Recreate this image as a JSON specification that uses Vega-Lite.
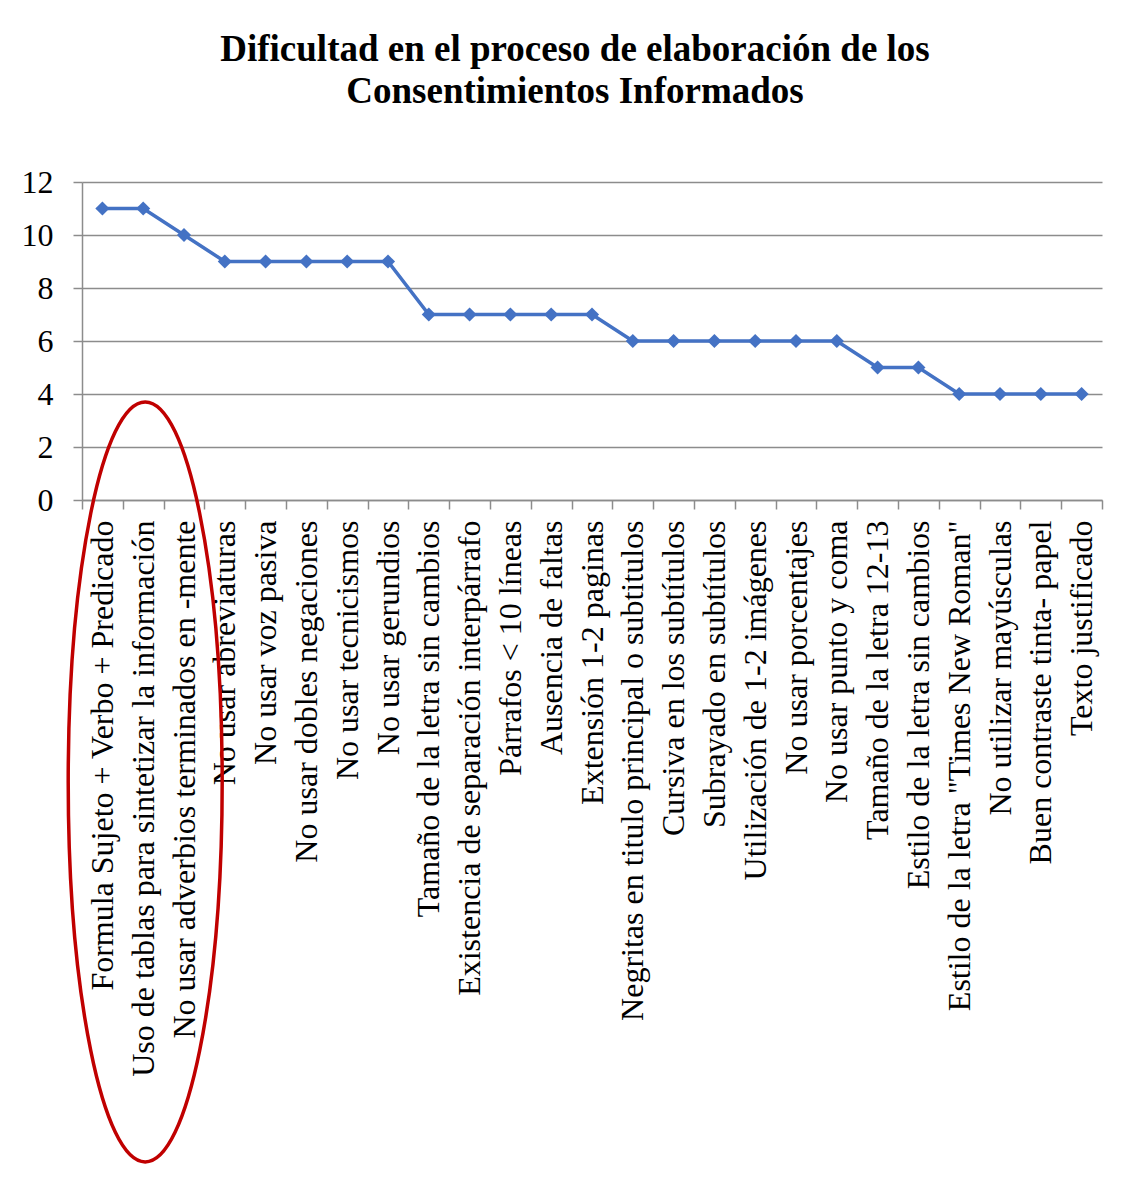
{
  "$schema": "https://vega.github.io/schema/vega-lite/v6.json",
  "width": 1020,
  "height": 318,
  "autosize": {"type": "none"},
  "padding": {"left": 82, "top": 182, "right": 28, "bottom": 685},
  "background": "white",
  "title": {
    "text": ["Dificultad en el proceso de elaboración de los", "Consentimientos Informados"],
    "font": "Liberation Serif",
    "fontSize": 37,
    "fontWeight": "bold",
    "color": "black",
    "lineHeight": 42,
    "anchor": "middle",
    "frame": "group",
    "dx": -17,
    "offset": 55
  },
  "datasets": {
    "criterios": [
      {"criterio": "Formula Sujeto + Verbo + Predicado", "n": 11},
      {"criterio": "Uso de tablas para sintetizar la información", "n": 11},
      {"criterio": "No usar adverbios terminados en -mente", "n": 10},
      {"criterio": "No usar abreviaturas", "n": 9},
      {"criterio": "No usar voz pasiva", "n": 9},
      {"criterio": "No usar dobles negaciones", "n": 9},
      {"criterio": "No usar tecnicismos", "n": 9},
      {"criterio": "No usar gerundios", "n": 9},
      {"criterio": "Tamaño de la letra sin cambios", "n": 7},
      {"criterio": "Existencia de separación interpárrafo", "n": 7},
      {"criterio": "Párrafos < 10 líneas", "n": 7},
      {"criterio": "Ausencia de faltas", "n": 7},
      {"criterio": "Extensión  1-2 paginas", "n": 7},
      {"criterio": "Negritas en titulo principal o subtitulos", "n": 6},
      {"criterio": "Cursiva en los subtítulos", "n": 6},
      {"criterio": "Subrayado en subtítulos", "n": 6},
      {"criterio": "Utilización de 1-2 imágenes", "n": 6},
      {"criterio": "No usar porcentajes", "n": 6},
      {"criterio": "No usar punto y coma", "n": 6},
      {"criterio": "Tamaño de la letra 12-13", "n": 5},
      {"criterio": "Estilo de la letra sin cambios", "n": 5},
      {"criterio": "Estilo de la letra \"Times New Roman\"", "n": 4},
      {"criterio": "No utilizar mayúsculas", "n": 4},
      {"criterio": "Buen contraste tinta- papel", "n": 4},
      {"criterio": "Texto justificado", "n": 4}
    ],
    "resaltado": [
      {"criterio": "Uso de tablas para sintetizar la información", "n": -10.64}
    ]
  },
  "config": {
    "view": {"stroke": null},
    "axis": {
      "labelFont": "Liberation Serif",
      "labelFontSize": 32,
      "labelColor": "black",
      "domainColor": "#8c8c8c",
      "domainWidth": 1.5,
      "tickColor": "#8c8c8c",
      "tickWidth": 1.5,
      "tickSize": 9,
      "gridColor": "#8c8c8c",
      "gridWidth": 1.5,
      "title": null
    }
  },
  "encoding": {
    "x": {
      "field": "criterio",
      "type": "nominal",
      "sort": null,
      "scale": {"type": "band", "paddingInner": 0, "paddingOuter": 0},
      "axis": {
        "labelAngle": -90,
        "labelLimit": 1200,
        "labelPadding": 11,
        "tickBand": "extent",
        "grid": false
      }
    },
    "y": {
      "field": "n",
      "type": "quantitative",
      "scale": {"domain": [0, 12], "nice": false},
      "axis": {
        "values": [0, 2, 4, 6, 8, 10, 12],
        "grid": true,
        "labelPadding": 20
      }
    }
  },
  "layer": [
    {
      "data": {"name": "criterios"},
      "mark": {"type": "line", "color": "#4472C4", "strokeWidth": 3.5}
    },
    {
      "data": {"name": "criterios"},
      "mark": {"type": "point", "shape": "diamond", "filled": true, "size": 200, "color": "#4472C4", "opacity": 1}
    },
    {
      "data": {"name": "resaltado"},
      "mark": {
        "type": "point",
        "shape": "M -0.2026 0 C -0.2026 -0.5523 -0.1119 -1 0 -1 C 0.1119 -1 0.2026 -0.5523 0.2026 0 C 0.2026 0.5523 0.1119 1 0 1 C -0.1119 1 -0.2026 0.5523 -0.2026 0 Z",
        "size": 577600,
        "xOffset": 2,
        "filled": false,
        "stroke": "#C00000",
        "strokeWidth": 3.5,
        "opacity": 1
      }
    }
  ]
}
